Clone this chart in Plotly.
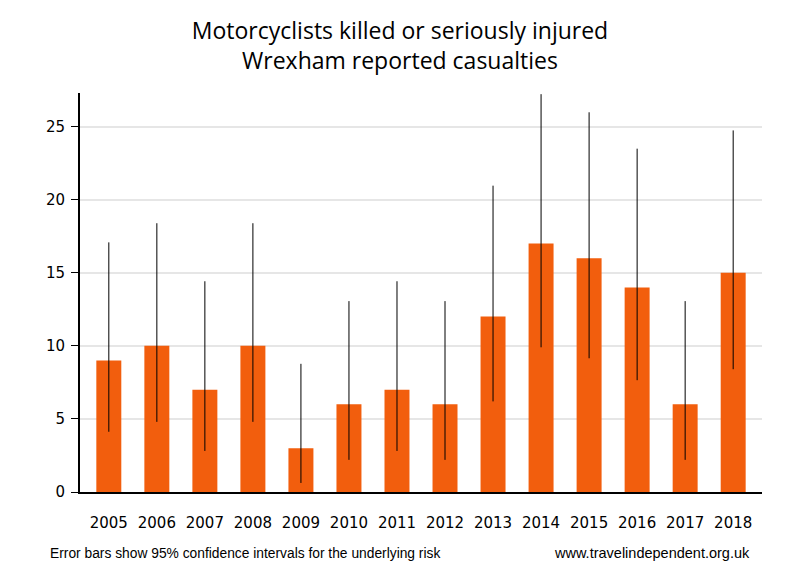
import plotly.graph_objects as go

years = ["2005", "2006", "2007", "2008", "2009", "2010", "2011", "2012", "2013", "2014", "2015", "2016", "2017", "2018"]
casualties = [9, 10, 7, 10, 3, 6, 7, 6, 12, 17, 16, 14, 6, 15]
ci_low = [4.12, 4.80, 2.81, 4.80, 0.62, 2.20, 2.81, 2.20, 6.20, 9.90, 9.15, 7.65, 2.20, 8.40]
ci_high = [17.08, 18.39, 14.42, 18.39, 8.77, 13.06, 14.42, 13.06, 20.96, 27.22, 25.98, 23.49, 13.06, 24.74]

err_plus = [h - v for h, v in zip(ci_high, casualties)]
err_minus = [v - l for l, v in zip(ci_low, casualties)]

fig = go.Figure(go.Bar(
    x=list(range(len(years))),
    y=casualties,
    width=0.52,
    marker=dict(color="#F25E0D", line=dict(width=0)),
    error_y=dict(type="data", array=err_plus, arrayminus=err_minus,
                 symmetric=False, color="black", thickness=1, width=0),
))

fig.update_layout(
    width=800, height=580,
    margin=dict(l=72, r=46, t=85, b=96),
    plot_bgcolor="white", paper_bgcolor="white",
    showlegend=False,
    title=dict(text="Motorcyclists killed or seriously injured<br>Wrexham reported casualties",
               x=0.49, xanchor="center", y=0.947, yanchor="middle",
               font=dict(family="Open Sans, Liberation Sans", size=23, color="black")),
    font=dict(family="DejaVu Sans", size=15, color="black"),
)
fig.update_xaxes(
    tickmode="array", tickvals=list(range(len(years))), ticktext=years,
    range=[-0.6, 13.6], showgrid=False, showline=True, linecolor="black", linewidth=2,
    ticks="", zeroline=False, tickfont=dict(size=15), ticklabelstandoff=16,
)
fig.update_yaxes(
    range=[0, 27.3], tickvals=[0, 5, 10, 15, 20, 25], showgrid=True, gridcolor="#e6e6e6", gridwidth=2,
    showline=True, linecolor="black", linewidth=2, ticks="outside", ticklen=7, tickcolor="black",
    zeroline=False, tickfont=dict(size=15), ticklabelstandoff=3,
)
fig.add_annotation(text="Error bars show 95% confidence intervals for the underlying risk",
                   xref="paper", yref="paper", x=-0.047, y=-0.153, xanchor="left", yanchor="middle",
                   showarrow=False, font=dict(family="Liberation Sans", size=13.8, color="black"))
fig.add_annotation(text="www.travelindependent.org.uk",
                   xref="paper", yref="paper", x=0.985, y=-0.153, xanchor="right", yanchor="middle",
                   showarrow=False, font=dict(family="Liberation Sans", size=14.5, color="black"))

fig.write_html("out.html")
